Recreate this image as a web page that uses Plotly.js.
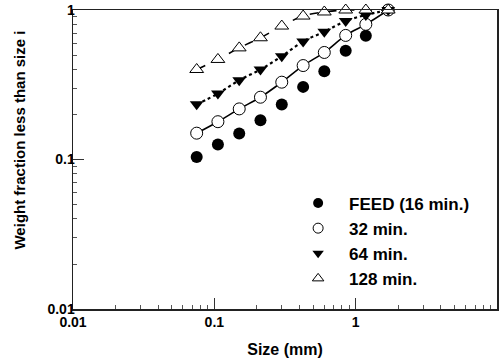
<!DOCTYPE html>
<html><head><meta charset="utf-8">
<script src="https://cdn.plot.ly/plotly-3.0.1.min.js"></script>
<style>html,body{margin:0;padding:0;background:#fff}</style>
</head><body>
<div id="chart" style="width:504px;height:363px"></div>
<script>
const sizes = [0.075, 0.106, 0.15, 0.212, 0.3, 0.425, 0.6, 0.85, 1.18, 1.7];
const feed16 = [0.104, 0.126, 0.149, 0.183, 0.233, 0.306, 0.390, 0.533, 0.673, 1.0];
const min32 = [0.150, 0.179, 0.218, 0.261, 0.329, 0.425, 0.520, 0.676, 0.802, 1.0];
const min64 = [0.234, 0.276, 0.339, 0.400, 0.491, 0.616, 0.716, 0.844, 0.926, 1.0];
const min128 = [0.400, 0.467, 0.558, 0.652, 0.781, 0.911, 0.97, 1.0, 1.0, 1.0];
const seriesNames = ["FEED (16 min.)", "32 min.", "64 min.", "128 min."];
const xTicks = [0.01, 0.1, 1, 10];
const yTicks = [0.01, 0.1, 1];

function minorVals(ticks) {
  const out = [];
  for (let i = 0; i < ticks.length - 1; i++) for (let k = 2; k <= 9; k++) out.push(ticks[i] * k);
  return out;
}

const fam = "Liberation Sans, Arial, sans-serif";
const font = {family: fam, size: 14, color: "#000", weight: "bold"};
const mk = [
  {symbol: "circle", color: "#000"},
  {symbol: "circle", color: "#fff", line: {color: "#000", width: 1}},
  {symbol: "triangle-down", color: "#000"},
  {symbol: "triangle-up", color: "#fff", line: {color: "#000", width: 1}}
];
const ySeries = [feed16, min32, min64, min128];

const traces = [
  {x: sizes, y: min32, mode: "lines", line: {color: "#000", width: 1.6, shape: "spline"}, showlegend: false, hoverinfo: "skip"},
  {x: sizes, y: min64, mode: "lines", line: {color: "#000", width: 2.2, dash: "dot", shape: "spline"}, showlegend: false, hoverinfo: "skip"},
  {x: sizes, y: min128, mode: "lines", line: {color: "#000", width: 1.6, dash: "dash", shape: "spline"}, showlegend: false, hoverinfo: "skip"}
];
ySeries.forEach((ys, i) => {
  traces.push({x: sizes, y: ys, name: seriesNames[i], mode: "markers", showlegend: false,
    marker: Object.assign({size: 12}, mk[i]), cliponaxis: false});
});
ySeries.forEach((ys, i) => {
  traces.push({x: [null], y: [null], name: seriesNames[i], mode: "markers", showlegend: true,
    marker: Object.assign({size: 10}, mk[i])});
});

const layout = {
  width: 504, height: 363,
  margin: {l: 73, r: 7, t: 10, b: 54},
  paper_bgcolor: "#fff", plot_bgcolor: "#fff",
  font: font,
  showlegend: true,
  legend: {x: 0.505, y: 0.413, xanchor: "left", yanchor: "top", bgcolor: "rgba(0,0,0,0)",
           itemwidth: 52,
           font: {family: fam, size: 17, color: "#000", weight: "bold"}, tracegroupgap: 0},
  xaxis: {
    type: "log", range: [-2, 1], showgrid: false, zeroline: false,
    showline: true, linecolor: "#222", linewidth: 1.5, mirror: true,
    ticks: "inside", ticklen: 11, tickwidth: 1, tickcolor: "#333",
    tickmode: "array", tickvals: xTicks, ticktext: xTicks.map(String),
    tickfont: {family: fam, size: 14, color: "#000", weight: "bold"},
    minor: {ticks: "inside", ticklen: 4, tickcolor: "#555", tickwidth: 1, tickmode: "array", tickvals: minorVals(xTicks), showgrid: false},
    title: {text: "Size (mm)", font: {family: fam, size: 16, color: "#000", weight: "bold"}, standoff: 14}
  },
  yaxis: {
    type: "log", range: [-2, 0], showgrid: false, zeroline: false,
    showline: true, linecolor: "#222", linewidth: 1.5, mirror: true,
    ticks: "inside", ticklen: 11, tickwidth: 1, tickcolor: "#333",
    tickmode: "array", tickvals: yTicks, ticktext: yTicks.map(String),
    ticklabelstandoff: -6,
    tickfont: {family: fam, size: 14, color: "#000", weight: "bold"},
    minor: {ticks: "inside", ticklen: 4, tickcolor: "#555", tickwidth: 1, tickmode: "array", tickvals: minorVals(yTicks), showgrid: false}
  },
  annotations: [{
    text: "Weight fraction less than size i", textangle: -90,
    xref: "paper", yref: "paper", x: -0.125, y: 0.5635, xanchor: "center", yanchor: "middle",
    showarrow: false, font: {family: fam, size: 15, color: "#000", weight: "bold"}
  }]
};

Plotly.newPlot("chart", traces, layout, {displayModeBar: false, staticPlot: true});
</script>
</body></html>
